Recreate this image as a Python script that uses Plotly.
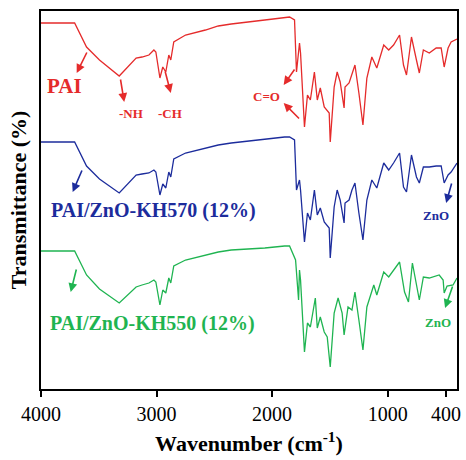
import plotly.graph_objects as go

# Wavenumber (cm-1) and offset transmittance values
pai_wn = [4000, 3709, 3606, 3494, 3323, 3237, 3177, 3126, 3066, 3023, 3006, 2971, 2946, 2920, 2894, 2877, 2851,
          2749, 2577, 2466, 2354, 2063, 1892, 1849, 1806, 1789, 1763, 1754, 1720, 1694, 1669, 1634, 1609, 1583,
          1549, 1506, 1497, 1463, 1437, 1411, 1377, 1369, 1334, 1309, 1283, 1249, 1214, 1180, 1137, 1094, 1034,
          991, 949, 897, 863, 837, 794, 751, 726, 691, 640, 580, 537, 511, 477, 451, 400]
pai_t = [366, 366, 342, 329, 313, 324, 331, 332, 334, 339, 337, 311, 322, 317, 334, 329, 347,
         354, 359, 363, 365, 369, 371, 372, 369, 317, 346, 336, 262, 294, 289, 317, 289, 301,
         282, 276, 247, 302, 317, 307, 281, 302, 306, 316, 324, 296, 264, 311, 332, 321, 344,
         339, 344, 354, 324, 314, 352, 329, 316, 339, 336, 341, 341, 322, 341, 347, 350]

kh570_wn = [4000, 3709, 3606, 3494, 3323, 3237, 3177, 3126, 3066, 3023, 3006, 2971, 2946, 2920, 2894, 2877, 2851,
            2749, 2577, 2466, 2354, 2063, 1892, 1849, 1806, 1789, 1763, 1754, 1720, 1694, 1669, 1634, 1609, 1583,
            1549, 1506, 1497, 1463, 1437, 1411, 1377, 1369, 1334, 1309, 1283, 1249, 1214, 1180, 1137, 1094, 1034,
            991, 949, 897, 863, 837, 794, 751, 726, 691, 640, 580, 537, 511, 477, 451, 400]
kh570_t = [247, 247, 223, 210, 196, 207, 214, 215, 216, 219, 217, 194, 205, 201, 217, 212, 230,
           236, 241, 244, 246, 250, 252, 252, 249, 199, 209, 199, 147, 176, 169, 199, 174, 181,
           167, 161, 131, 182, 199, 189, 166, 186, 189, 199, 206, 176, 149, 189, 209, 201, 226,
           219, 226, 236, 202, 197, 234, 212, 206, 222, 222, 223, 223, 206, 214, 217, 226]

kh550_wn = [4000, 3709, 3606, 3494, 3323, 3237, 3177, 3126, 3066, 3023, 3006, 2971, 2946, 2920, 2894, 2877, 2851,
            2749, 2577, 2466, 2354, 2063, 1892, 1849, 1797, 1771, 1763, 1754, 1720, 1694, 1669, 1626, 1609, 1583,
            1549, 1523, 1497, 1463, 1429, 1394, 1377, 1343, 1309, 1283, 1249, 1214, 1180, 1120, 1094, 1034,
            991, 949, 897, 854, 820, 786, 751, 726, 691, 640, 554, 520, 511, 486, 434, 400]
kh550_t = [138, 138, 114, 100, 86, 96, 102, 104, 106, 109, 107, 84, 99, 96, 111, 106, 123,
           129, 134, 137, 139, 141, 143, 143, 129, 89, 119, 109, 37, 66, 62, 91, 61, 72,
           57, 52, 22, 76, 91, 76, 54, 82, 79, 97, 69, 39, 82, 104, 94, 117,
           112, 119, 127, 97, 87, 126, 102, 89, 112, 111, 114, 109, 96, 103, 104, 111]

tick_vals = [4000, 3000, 2000, 1000, 495]
tick_text = ["4000", "3000", "2000", "1000", "400"]

RED = "#e52b2b"
BLUE = "#1c2c9c"
GREEN = "#1fb451"
FONT = "Liberation Serif"

fig = go.Figure()
for wn, t, c in [(pai_wn, pai_t, RED), (kh570_wn, kh570_t, BLUE), (kh550_wn, kh550_t, GREEN)]:
    fig.add_trace(go.Scatter(x=wn, y=t, mode="lines", line=dict(color=c, width=1.3), showlegend=False))

def label(x, y, text, color, size, xanchor="center"):
    fig.add_annotation(x=x, y=y, text="<b>%s</b>" % text, showarrow=False, xref="x", yref="y",
                       xanchor=xanchor, yanchor="middle",
                       font=dict(family=FONT, size=size, color=color))

def arrow(x0, y0, x1, y1, color):
    fig.add_annotation(x=x1, y=y1, ax=x0, ay=y0, xref="x", yref="y", axref="x", ayref="y",
                       text="", showarrow=True, arrowhead=2, arrowsize=1.1, arrowwidth=1.6,
                       arrowcolor=color)

label(3794, 303, "PAI", RED, 21)
arrow(3597, 338, 3691, 316, RED)
label(3220, 276, "-NH", RED, 13)
arrow(3314, 311, 3280, 287, RED)
label(2886, 276, "-CH", RED, 13)
arrow(2929, 319, 2877, 296, RED)
label(2046, 293, "C=O", RED, 13)
arrow(1797, 321, 1900, 304, RED)
arrow(1754, 269, 1900, 286, RED)

label(3935, 179, "PAI/ZnO-KH570 (12%)", BLUE, 20, xanchor="left")
arrow(3640, 220, 3726, 197, BLUE)
label(580, 174, "ZnO", BLUE, 13)
arrow(443, 207, 494, 186, BLUE)

label(3940, 66, "PAI/ZnO-KH550 (12%)", GREEN, 20, xanchor="left")
arrow(3691, 121, 3743, 97, GREEN)
label(563, 67, "ZnO", GREEN, 13)
arrow(434, 104, 503, 81, GREEN)

fig.update_layout(
    width=466, height=460,
    margin=dict(l=41, r=5, t=11, b=71),
    plot_bgcolor="white", paper_bgcolor="white",
    font=dict(family=FONT, color="black"),
    xaxis=dict(range=[4000, 400], tickvals=tick_vals, ticktext=tick_text,
               ticks="outside", ticklen=6, tickwidth=2, tickcolor="black",
               showline=True, linewidth=2, linecolor="black", mirror=True,
               showgrid=False, zeroline=False,
               tickfont=dict(family=FONT, size=20, color="black"),
               title=dict(text="<b>Wavenumber (cm<sup>-1</sup>)</b>", standoff=12,
                          font=dict(family=FONT, size=22, color="black"))),
    yaxis=dict(range=[0, 378], showticklabels=False, ticks="",
               showline=True, linewidth=2, linecolor="black", mirror=True,
               showgrid=False, zeroline=False,
               title=dict(text="<b>Transmittance (%)</b>", standoff=6,
                          font=dict(family=FONT, size=22, color="black"))),
)

fig.write_html("out.html")
